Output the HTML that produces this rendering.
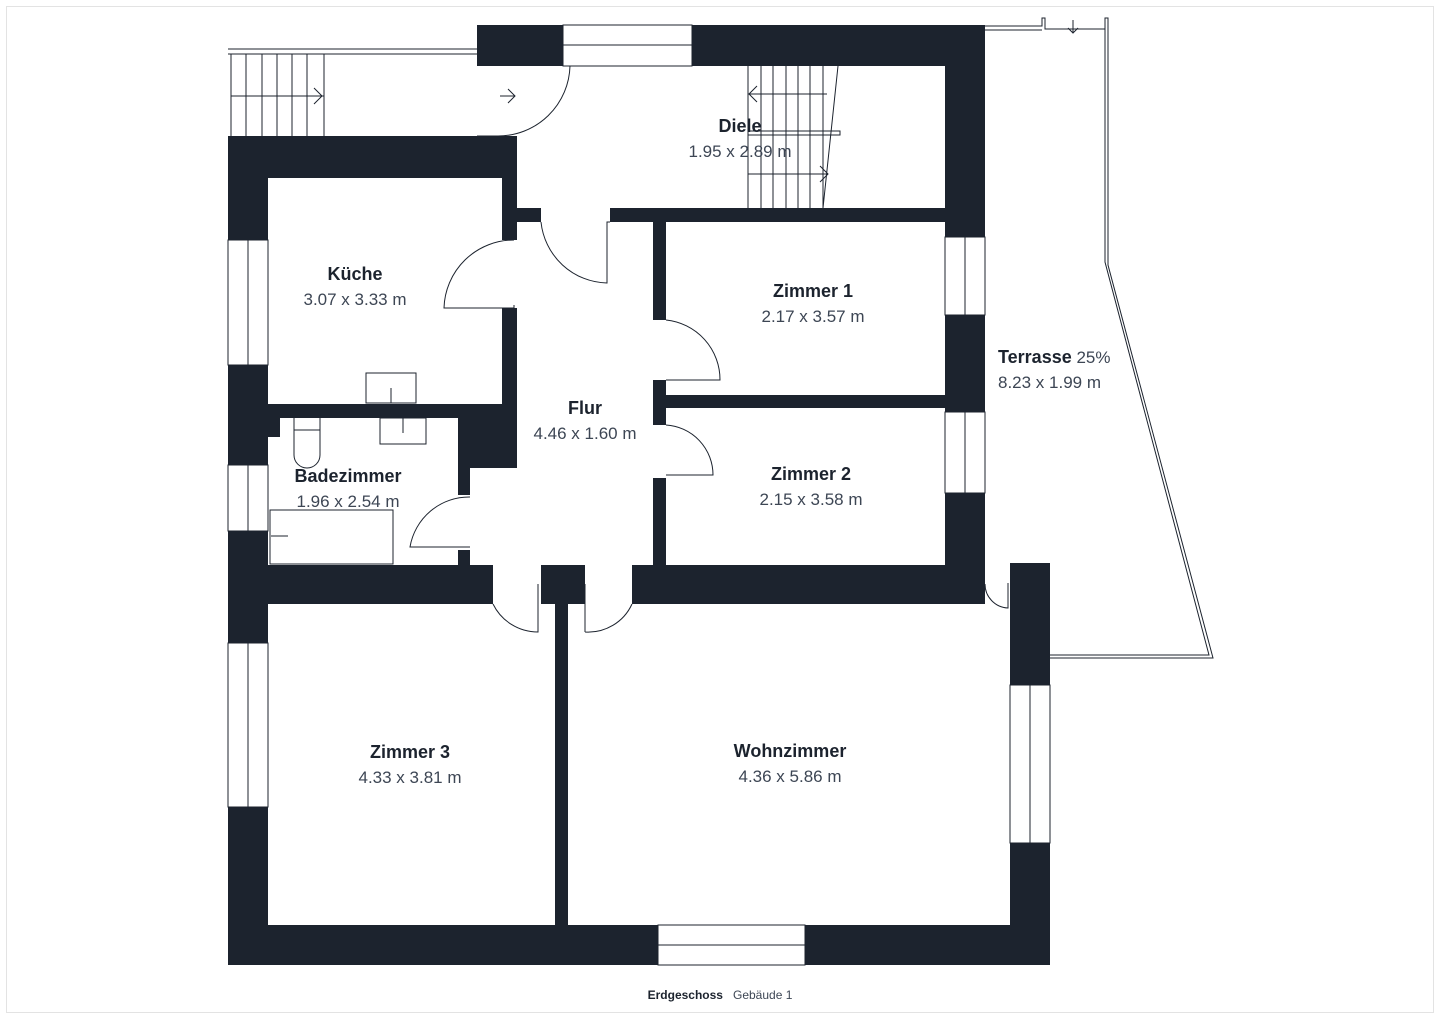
<!DOCTYPE html>
<html><head><meta charset="utf-8"><style>
body{margin:0;background:#fff;width:1440px;height:1019px;overflow:hidden}
svg{position:absolute;left:0;top:0}
text{font-family:"Liberation Sans",sans-serif}
.n{font-size:18px;font-weight:bold;fill:#1c232e}
.d{font-size:17px;fill:#3d4654}
</style></head><body>
<svg width="1440" height="1019" viewBox="0 0 1440 1019">
<rect x="6.5" y="6.5" width="1427" height="1006" fill="none" stroke="#e3e3e3"/>
<g fill="none" stroke="#1c232e" stroke-width="1">
<path d="M985 26 H1042 V18 H1045 V29 H1105 V18 H1108 V265 L1213 658 H1050"/>
<path d="M985 30 H1042 M1105 29 V262 L1209 655 H1050"/>
<path d="M228 49 H477 M228 54 H477 M231 54 V136 M246 54 V136 M262 54 V136 M277 54 V136 M292 54 V136 M307 54 V136 M324 54 V136 M231 96 H324 M314 88 L322 96 L314 104"/>
<rect x="563" y="25" width="129" height="41"/><path d="M563 45 H692"/>
<path d="M748 66 V208 M761 66 V208 M773 66 V208 M786 66 V208 M798 66 V208 M810 66 V208 M823 66 V208 M838 66 L823 208 M748 94 H827 M757 86 L749 94 L757 102 M748 174 H828 M820 166 L828 174 L820 182"/>
<rect x="748" y="131" width="92" height="4"/>
<rect x="228" y="240" width="40" height="125"/><path d="M248 240 V365"/>
<rect x="228" y="465" width="40" height="66"/><path d="M248 465 V531"/>
<rect x="228" y="643" width="40" height="164"/><path d="M248 643 V807"/>
<rect x="945" y="237" width="40" height="78"/><path d="M965 237 V315"/>
<rect x="945" y="412" width="40" height="81"/><path d="M965 412 V493"/>
<rect x="1010" y="685" width="40" height="158"/><path d="M1030 685 V843"/>
<rect x="658" y="925" width="147" height="40"/><path d="M658 945 H805"/>
<path d="M498 136 A72 72 0 0 0 570 66 M498 136 H477"/>
<path d="M514 240 A70 70 0 0 0 444 308 H514 V305"/>
<path d="M541 222 A68 68 0 0 0 607 283 V222 H610"/>
<path d="M666 320 A60 60 0 0 1 720 380 H666"/>
<path d="M666 425 A50 50 0 0 1 713 475 H666"/>
<path d="M470 497 A60 60 0 0 0 410 547 H470"/>
<path d="M493 604 A50 50 0 0 0 538 632 V584"/>
<path d="M585 632 A48 48 0 0 0 632 604 M585 584 V632"/>
<path d="M985 584 A24 24 0 0 0 1008 608 V583"/>
<path d="M500 96 H515 M508 89 L515 96 L508 103"/>
<path d="M1073 20 V33 M1068 28 L1073 33 L1078 28"/>
<rect x="366" y="373" width="50" height="30"/><path d="M391 388 V403"/>
<rect x="380" y="418" width="46" height="26"/><path d="M403 418 V433"/>
<path d="M294 418 V455 A13 13 0 0 0 320 455 V418 M294 430 H320"/>
<rect x="270" y="510" width="123" height="54"/><path d="M271 536 H288"/>
</g>
<g fill="#1c232e">
<rect x="477" y="25" width="86" height="41"/>
<rect x="692" y="25" width="293" height="41"/>
<rect x="945" y="25" width="40" height="212"/>
<rect x="945" y="315" width="40" height="97"/>
<rect x="945" y="493" width="40" height="111"/>
<rect x="228" y="136" width="289" height="42"/>
<rect x="228" y="136" width="40" height="104"/>
<rect x="228" y="365" width="40" height="100"/>
<rect x="228" y="531" width="40" height="112"/>
<rect x="228" y="807" width="40" height="158"/>
<rect x="502" y="136" width="15" height="104"/>
<rect x="517" y="208" width="24" height="14"/>
<rect x="610" y="208" width="335" height="14"/>
<rect x="653" y="222" width="13" height="98"/>
<rect x="653" y="380" width="13" height="45"/>
<rect x="653" y="395" width="292" height="13"/>
<rect x="653" y="478" width="13" height="90"/>
<rect x="228" y="404" width="289" height="14"/>
<rect x="268" y="418" width="12" height="19"/>
<rect x="502" y="308" width="15" height="160"/>
<rect x="458" y="418" width="59" height="50"/>
<rect x="458" y="468" width="12" height="27"/>
<rect x="458" y="550" width="12" height="16"/>
<rect x="228" y="565" width="265" height="39"/>
<rect x="541" y="565" width="44" height="39"/>
<rect x="632" y="565" width="353" height="39"/>
<rect x="555" y="604" width="13" height="321"/>
<rect x="228" y="925" width="430" height="40"/>
<rect x="805" y="925" width="245" height="40"/>
<rect x="1010" y="563" width="40" height="122"/>
<rect x="1010" y="843" width="40" height="122"/>
</g>
<text class="n" x="355" y="280" text-anchor="middle">Küche</text>
<text class="d" x="355" y="305" text-anchor="middle">3.07 x 3.33 m</text>
<text class="n" x="740" y="132" text-anchor="middle">Diele</text>
<text class="d" x="740" y="157" text-anchor="middle">1.95 x 2.89 m</text>
<text class="n" x="813" y="297" text-anchor="middle">Zimmer 1</text>
<text class="d" x="813" y="322" text-anchor="middle">2.17 x 3.57 m</text>
<text class="n" x="585" y="414" text-anchor="middle">Flur</text>
<text class="d" x="585" y="439" text-anchor="middle">4.46 x 1.60 m</text>
<text class="n" x="811" y="480" text-anchor="middle">Zimmer 2</text>
<text class="d" x="811" y="505" text-anchor="middle">2.15 x 3.58 m</text>
<text class="n" x="348" y="482" text-anchor="middle">Badezimmer</text>
<text class="d" x="348" y="507" text-anchor="middle">1.96 x 2.54 m</text>
<text x="998" y="363"><tspan class="n">Terrasse</tspan><tspan class="d"> 25%</tspan></text>
<text class="d" x="998" y="388">8.23 x 1.99 m</text>
<text class="n" x="410" y="758" text-anchor="middle">Zimmer 3</text>
<text class="d" x="410" y="783" text-anchor="middle">4.33 x 3.81 m</text>
<text class="n" x="790" y="757" text-anchor="middle">Wohnzimmer</text>
<text class="d" x="790" y="782" text-anchor="middle">4.36 x 5.86 m</text>
<text x="720" y="999" text-anchor="middle" font-size="12"><tspan font-weight="bold" fill="#1c232e">Erdgeschoss</tspan><tspan fill="#3d4654" dx="10">Gebäude 1</tspan></text>
</svg>
</body></html>
